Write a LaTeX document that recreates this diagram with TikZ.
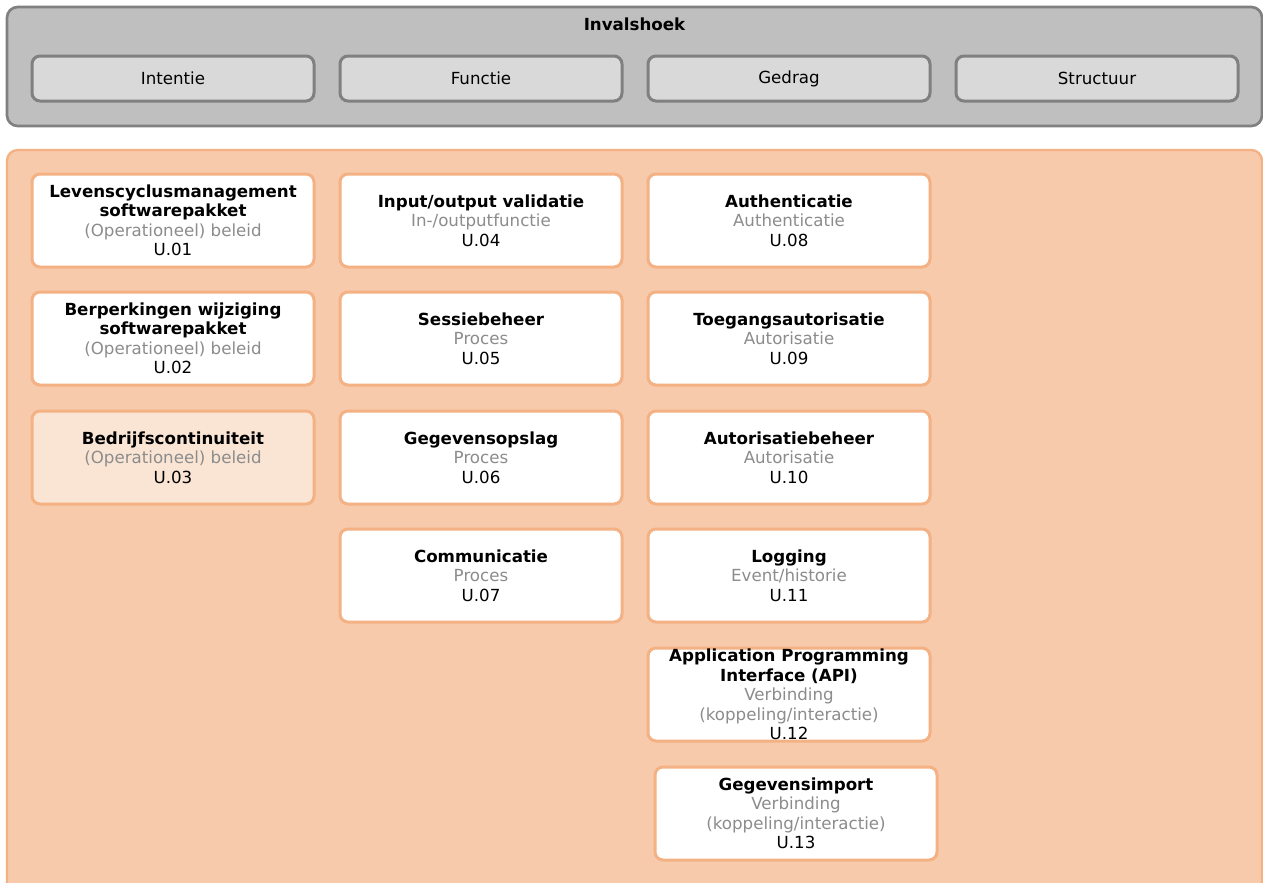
\documentclass[tikz,border=0pt]{standalone}
\usepackage{fontspec}
\setmainfont{DejaVu Sans}
\usetikzlibrary{positioning}
\definecolor{hdrfill}{HTML}{BFBFBF}
\definecolor{hdrline}{HTML}{808080}
\definecolor{tabfill}{HTML}{D9D9D9}
\definecolor{areafill}{HTML}{F7CAAC}
\definecolor{cardline}{HTML}{F4B183}
\definecolor{softfill}{HTML}{FAE5D4}
\definecolor{subtxt}{HTML}{8C8C8C}

\begin{document}
\begin{tikzpicture}[x=0.75pt,y=-0.75pt,
    tabbox/.style={draw=hdrline,line width=2.25pt,fill=tabfill,rounded corners=6pt,
      minimum width=211.5pt,minimum height=33.75pt,inner sep=0pt,
      font=\fontsize{12.5}{14.6}\selectfont},
    cardbox/.style={draw=cardline,line width=2.25pt,fill=white,rounded corners=6pt,
      minimum width=211.5pt,minimum height=69.75pt,inner sep=0pt,align=center,
      font=\fontsize{12.5}{14.6}\selectfont}]
  \useasboundingbox (0,0) rectangle (1263,882);
  \clip (0,0) rectangle (1263,882);
  % invalshoek
  \draw[draw=hdrline,line width=2pt,fill=hdrfill,rounded corners=8pt] (7,7) rectangle (1262,126);
  \node[font=\fontsize{12.5}{14.6}\selectfont\bfseries] (kop) at (634.5,24) {Invalshoek};
  \foreach \t [count=\i] in {Intentie,Functie,Gedrag,Structuur}{
    \node[tabbox] (tab\i) at ({173+(\i-1)*308},78.5) {\t};
  }
  % gebied
  \draw[draw=cardline,line width=1.75pt,fill=areafill,rounded corners=8pt] (7,150) rectangle (1262,900);
  % kolom 1
  \node[cardbox] (u01) at (173,220.5) {\textbf{Levenscyclusmanagement}\\\textbf{softwarepakket}\\\textcolor{subtxt}{(Operationeel) beleid}\\U.01};
  \node[cardbox] (u02) at (173,338.5) {\textbf{Berperkingen wijziging}\\\textbf{softwarepakket}\\\textcolor{subtxt}{(Operationeel) beleid}\\U.02};
  \node[cardbox,fill=softfill] (u03) at (173,457.5) {\textbf{Bedrijfscontinuiteit}\\\textcolor{subtxt}{(Operationeel) beleid}\\U.03};
  % kolom 2
  \node[cardbox] (u04) at (481,220.5) {\textbf{Input/output validatie}\\\textcolor{subtxt}{In-/outputfunctie}\\U.04};
  \node[cardbox] (u05) at (481,338.5) {\textbf{Sessiebeheer}\\\textcolor{subtxt}{Proces}\\U.05};
  \node[cardbox] (u06) at (481,457.5) {\textbf{Gegevensopslag}\\\textcolor{subtxt}{Proces}\\U.06};
  \node[cardbox] (u07) at (481,575.5) {\textbf{Communicatie}\\\textcolor{subtxt}{Proces}\\U.07};
  % kolom 3
  \node[cardbox] (u08) at (789,220.5) {\textbf{Authenticatie}\\\textcolor{subtxt}{Authenticatie}\\U.08};
  \node[cardbox] (u09) at (789,338.5) {\textbf{Toegangsautorisatie}\\\textcolor{subtxt}{Autorisatie}\\U.09};
  \node[cardbox] (u10) at (789,457.5) {\textbf{Autorisatiebeheer}\\\textcolor{subtxt}{Autorisatie}\\U.10};
  \node[cardbox] (u11) at (789,575.5) {\textbf{Logging}\\\textcolor{subtxt}{Event/historie}\\U.11};
  \node[cardbox] (u12) at (789,694.5) {\textbf{Application Programming}\\\textbf{Interface (API)}\\\textcolor{subtxt}{Verbinding}\\\textcolor{subtxt}{(koppeling/interactie)}\\U.12};
  \node[cardbox] (u13) at (796,813.5) {\textbf{Gegevensimport}\\\textcolor{subtxt}{Verbinding}\\\textcolor{subtxt}{(koppeling/interactie)}\\U.13};
\end{tikzpicture}
\end{document}
